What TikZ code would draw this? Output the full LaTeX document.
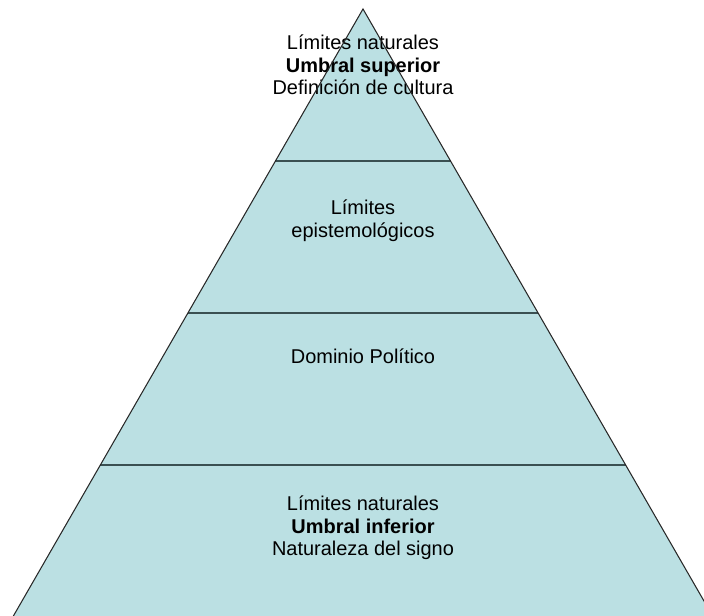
\documentclass[tikz,border=0pt]{standalone}
\usepackage{fontspec}
\setmainfont{Liberation Sans}
\usetikzlibrary{calc}
\definecolor{capa}{RGB}{187,224,227}
\definecolor{borde}{RGB}{40,40,40}
\definecolor{divisor}{RGB}{58,80,82}

\begin{document}
\begin{tikzpicture}[x=1cm,y=1cm,
  rotulo/.style={align=center,font=\fontsize{14.2}{16}\selectfont,inner sep=0pt}]
  \useasboundingbox (0,0) rectangle (17.6,15.375);
  \clip (0,0) rectangle (17.6,15.375);
  \coordinate (V) at (9.075,15.15);
  \coordinate (I) at (0.32,-0.05);
  \coordinate (D) at (17.83,-0.05);
  \fill[capa] (V) -- (I) -- (D) -- cycle;
  \foreach \t in {0.25,0.5,0.75}
    \draw[divisor,line width=1.3pt] ($(I)!\t!(V)$) -- ($(D)!\t!(V)$);
  \node[rotulo] (cima) at (9.075,13.75) {Límites naturales\\\textbf{Umbral superior}\\Definición de cultura};
  \node[rotulo] (episteme) at (9.075,9.86) {Límites\\epistemológicos};
  \node[rotulo] (dominio) at (9.075,6.475) {Dominio Político};
  \node[rotulo] (base) at (9.075,2.175) {Límites naturales\\\textbf{Umbral inferior}\\Naturaleza del signo};
  \draw[borde,line width=0.75pt] (I) -- (V) -- (D);
\end{tikzpicture}
\end{document}
